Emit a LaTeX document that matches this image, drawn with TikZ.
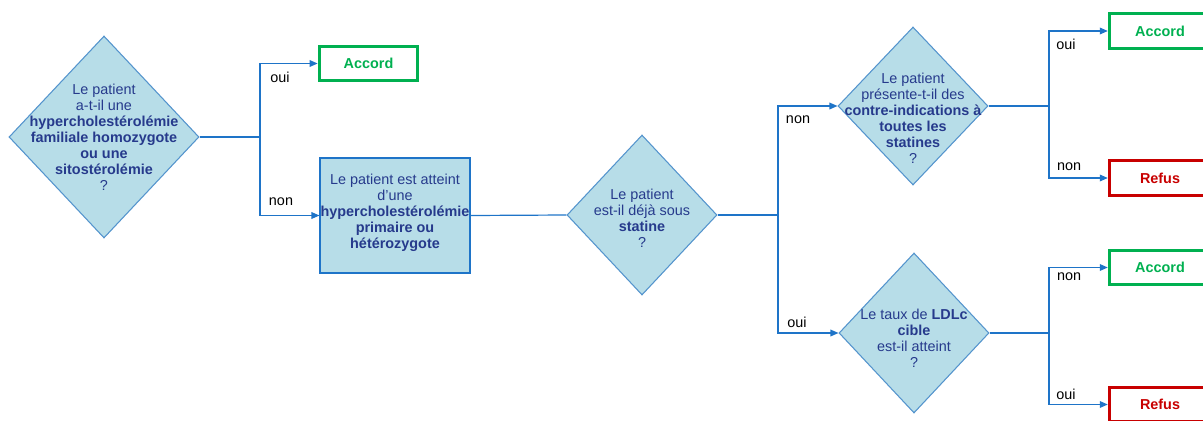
\documentclass[tikz,border=0pt]{standalone}
\usepackage{fontspec}
\setmainfont{Liberation Sans}
\usetikzlibrary{shapes.geometric,arrows.meta}
\definecolor{txtblue}{RGB}{38,58,140}
\definecolor{fillblue}{RGB}{183,221,232}
\definecolor{edgeblue}{RGB}{84,148,205}
\definecolor{linkblue}{RGB}{30,116,200}
\definecolor{okgreen}{RGB}{0,176,80}
\definecolor{nogred}{RGB}{200,0,0}
\tikzset{
  dia/.style={shape=diamond, draw=edgeblue, fill=fillblue, line width=0.8pt, inner sep=0pt},
  recbox/.style={shape=rectangle, draw=linkblue, fill=fillblue, line width=0.8pt, inner sep=0pt},
  qtext/.style={align=center, text=txtblue, font=\fontsize{10.8}{12}\selectfont, inner sep=0pt},
  okbox/.style={shape=rectangle, draw=okgreen, line width=2.3pt, text=okgreen, font=\fontsize{10.8}{12}\selectfont\bfseries, minimum width=74pt, minimum height=26pt, inner sep=0pt},
  nobox/.style={shape=rectangle, draw=nogred, line width=2.3pt, text=nogred, font=\fontsize{10.8}{12}\selectfont\bfseries, minimum width=74pt, minimum height=26pt, inner sep=0pt},
  lbl/.style={text=black, font=\fontsize{10.8}{12}\selectfont, inner sep=0pt},
  link/.style={draw=linkblue, line width=0.9pt},
  arr/.style={link, -{Triangle[length=6pt,width=5pt]}}
}
\begin{document}
\begin{tikzpicture}[x=0.75pt,y=-0.75pt]
\path[use as bounding box] (0,0) rectangle (1203,421);
% shapes
\node[dia, minimum width=142.5pt, minimum height=151.5pt] (d1) at (104,137) {};
\node[qtext] (t1) at (104,137.5) {Le patient\\a-t-il une\\\textbf{hypercholestérolémie}\\\textbf{familiale homozygote}\\\textbf{ou une}\\\textbf{sitostérolémie}\\?};
\node[okbox] (acc1) at (368.5,63.5) {Accord};
\node[recbox, minimum width=112.5pt, minimum height=86.25pt] (r1) at (395,215.5) {};
\node[qtext] (tr) at (395,212.5) {Le patient est atteint\\d'une\\\textbf{hypercholestérolémie}\\\textbf{primaire ou}\\\textbf{hétérozygote}};
\node[dia, minimum width=112.5pt, minimum height=120pt] (d2) at (642,215) {};
\node[qtext] (t2) at (642,218) {Le patient\\est-il déjà sous\\\textbf{statine}\\?};
\node[dia, minimum width=112.5pt, minimum height=118.5pt] (d3) at (913,106) {};
\node[qtext] (t3) at (913,118) {Le patient\\présente-t-il des\\\textbf{contre-indications à}\\\textbf{toutes les}\\\textbf{statines}\\?};
\node[dia, minimum width=112.5pt, minimum height=120pt] (d4) at (914,333) {};
\node[qtext] (t4) at (914,338) {Le taux de \textbf{LDLc}\\\textbf{cible}\\est-il atteint\\?};
\node[okbox, minimum width=76pt] (acc2) at (1160,31) {Accord};
\node[nobox, minimum width=76pt] (ref1) at (1160,178) {Refus};
\node[okbox, minimum width=76pt] (acc3) at (1160,267.5) {Accord};
\node[nobox, minimum width=76pt] (ref2) at (1160,404.5) {Refus};
% junctions
\coordinate (j1) at (260,137);
\coordinate (j2) at (778,215);
\coordinate (j3) at (1049,106);
\coordinate (j4) at (1049,333);
% connectors
\draw[link] (d1.east) -- (j1);
\draw[arr] (j1) |- (acc1.west);
\draw[arr] (j1) |- (r1.west);
\draw[link] (r1.east) -- (d2.west);
\draw[link] (d2.east) -- (j2);
\draw[arr] (j2) |- (d3.west);
\draw[arr] (j2) |- (d4.west);
\draw[link] (d3.east) -- (j3);
\draw[arr] (j3) |- (acc2.west);
\draw[arr] (j3) |- (ref1.west);
\draw[link] (d4.east) -- (j4);
\draw[arr] (j4) |- (acc3.west);
\draw[arr] (j4) |- (ref2.west);
% labels
\node[lbl] (l1) at (280,77) {oui};
\node[lbl] (l2) at (281,202) {non};
\node[lbl] (l3) at (798,120) {non};
\node[lbl] (l4) at (797,322) {oui};
\node[lbl] (l5) at (1066,44) {oui};
\node[lbl] (l6) at (1069,167) {non};
\node[lbl] (l7) at (1069,277) {non};
\node[lbl] (l8) at (1066,394) {oui};
\end{tikzpicture}
\end{document}
